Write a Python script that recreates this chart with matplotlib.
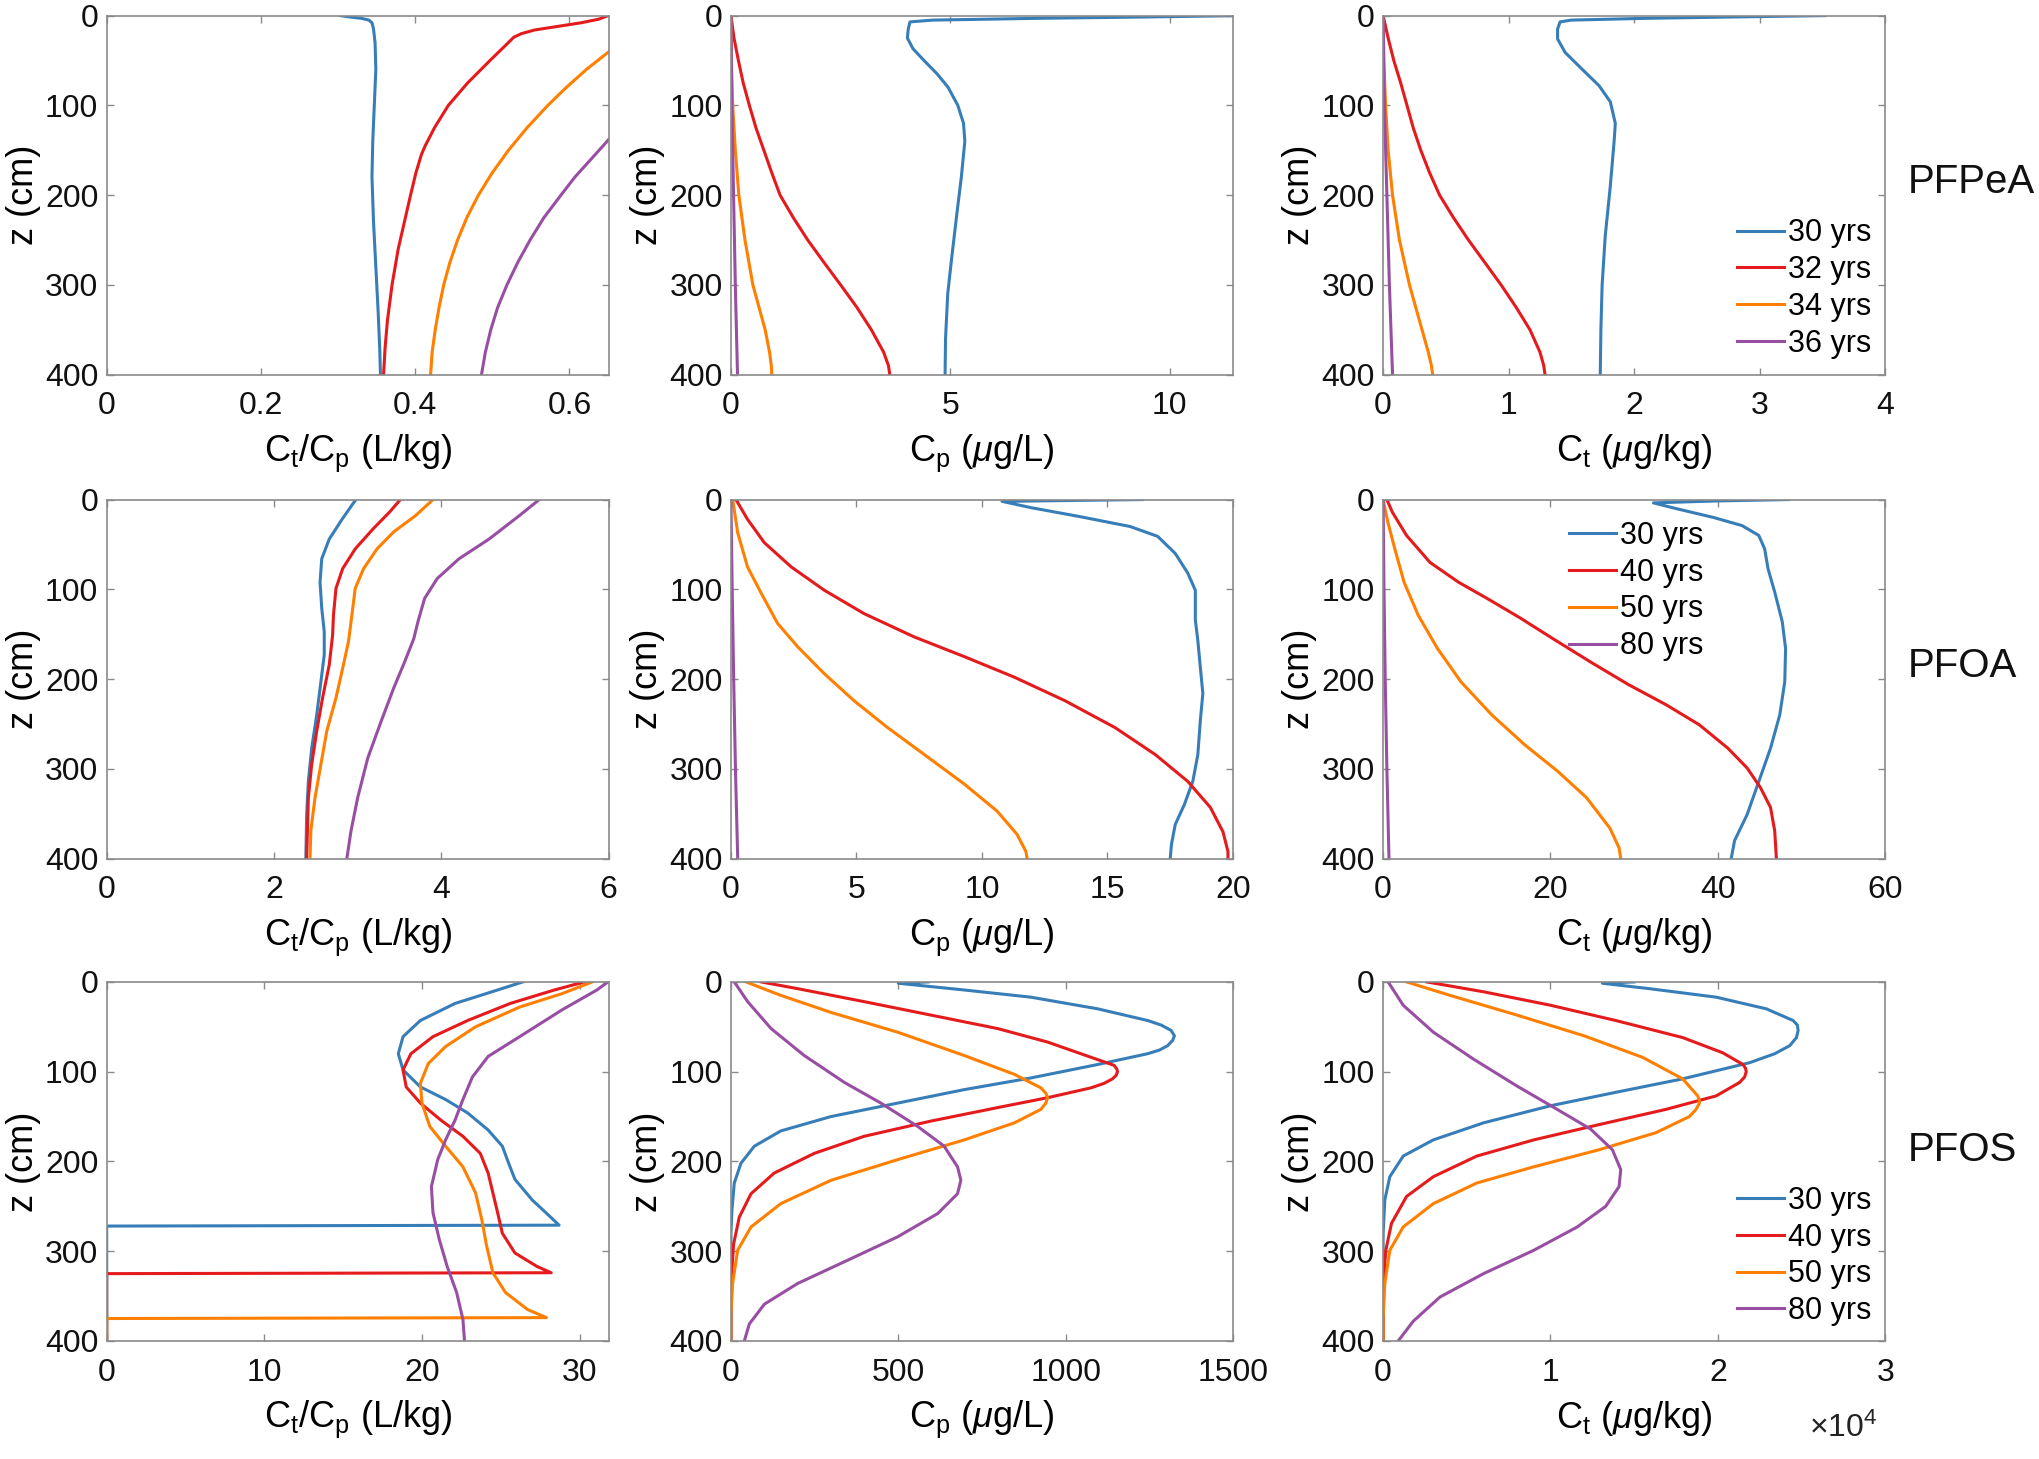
import matplotlib
matplotlib.use('Agg')
import matplotlib.pyplot as plt

plt.rcParams['font.family'] = ['Liberation Sans', 'DejaVu Sans']
plt.rcParams['mathtext.fontset'] = 'custom'
plt.rcParams['mathtext.rm'] = 'Liberation Sans'
plt.rcParams['mathtext.it'] = 'Liberation Sans:italic'
plt.rcParams['mathtext.bf'] = 'Liberation Sans:bold'

# ---- PFPeA ----
# Ct/Cp (L/kg)
z_pfpea_r30 = [0, 1.5, 3, 5, 8, 15, 30, 60, 100, 140, 180, 230, 280, 330, 370, 400]
x_pfpea_r30 = [0.303, 0.315, 0.33, 0.34, 0.344, 0.346, 0.348, 0.349, 0.347, 0.345, 0.344, 0.346, 0.349, 0.352, 0.354, 0.355]
z_pfpea_r32 = [0, 4, 8, 12, 16, 20, 24, 35, 50, 75, 100, 125, 145, 155, 175, 200, 230, 260, 300, 340, 370, 400]
x_pfpea_r32 = [0.65, 0.638, 0.615, 0.585, 0.555, 0.538, 0.528, 0.515, 0.497, 0.468, 0.443, 0.425, 0.413, 0.408, 0.401, 0.394, 0.386, 0.378, 0.37, 0.364, 0.361, 0.359]
z_pfpea_r34 = [30, 41, 60, 80, 100, 125, 150, 175, 200, 225, 250, 275, 300, 325, 350, 375, 400]
x_pfpea_r34 = [0.668, 0.65, 0.622, 0.596, 0.572, 0.545, 0.521, 0.5, 0.482, 0.467, 0.455, 0.445, 0.437, 0.431, 0.426, 0.422, 0.42]
z_pfpea_r36 = [128, 139, 160, 180, 200, 225, 250, 275, 300, 325, 350, 375, 400]
x_pfpea_r36 = [0.663, 0.65, 0.628, 0.607, 0.589, 0.567, 0.549, 0.533, 0.519, 0.507, 0.498, 0.491, 0.486]
# Cp (ug/L)
z_pfpea_c30 = [0, 1.5, 3, 5, 7, 15, 25, 37, 50, 65, 80, 100, 120, 140, 180, 220, 270, 310, 360, 400]
x_pfpea_c30 = [11.6, 9.5, 7.0, 4.6, 4.08, 4.04, 4.02, 4.15, 4.4, 4.7, 4.95, 5.17, 5.3, 5.33, 5.25, 5.15, 5.03, 4.94, 4.89, 4.88]
z_pfpea_c32 = [0, 25, 50, 75, 100, 125, 150, 175, 200, 225, 250, 275, 300, 325, 350, 375, 390, 400]
x_pfpea_c32 = [0, 0.07, 0.17, 0.28, 0.42, 0.57, 0.75, 0.93, 1.12, 1.42, 1.75, 2.12, 2.5, 2.87, 3.2, 3.48, 3.59, 3.62]
z_pfpea_c34 = [0, 50, 100, 150, 200, 250, 275, 300, 325, 350, 375, 390, 400]
x_pfpea_c34 = [0, 0.01, 0.04, 0.1, 0.18, 0.32, 0.41, 0.5, 0.64, 0.78, 0.88, 0.92, 0.93]
z_pfpea_c36 = [0, 100, 200, 300, 400]
x_pfpea_c36 = [0, 0.02, 0.06, 0.1, 0.15]
# Ct (ug/kg)
z_pfpea_t30 = [0, 1.5, 3, 5, 7, 15, 26, 41, 59, 78, 96, 120, 141, 190, 245, 300, 350, 400]
x_pfpea_t30 = [3.52, 2.8, 2.1, 1.5, 1.41, 1.39, 1.39, 1.45, 1.58, 1.72, 1.81, 1.85, 1.84, 1.81, 1.77, 1.745, 1.735, 1.73]
z_pfpea_t32 = [0, 25, 50, 75, 100, 125, 150, 175, 200, 225, 250, 275, 300, 325, 350, 375, 390, 400]
x_pfpea_t32 = [0, 0.04, 0.085, 0.14, 0.19, 0.24, 0.30, 0.37, 0.45, 0.56, 0.68, 0.81, 0.94, 1.06, 1.17, 1.25, 1.28, 1.29]
z_pfpea_t34 = [0, 50, 100, 150, 200, 250, 275, 300, 325, 350, 375, 390, 400]
x_pfpea_t34 = [0, 0.005, 0.02, 0.04, 0.075, 0.13, 0.17, 0.21, 0.26, 0.31, 0.36, 0.385, 0.395]
z_pfpea_t36 = [0, 100, 200, 300, 400]
x_pfpea_t36 = [0, 0.01, 0.03, 0.05, 0.075]

# ---- PFOA ----
z_pfoa_r30 = [0, 5, 21, 44, 66, 92, 121, 147, 173, 203, 240, 277, 314, 351, 400]
x_pfoa_r30 = [2.98, 2.94, 2.82, 2.66, 2.57, 2.55, 2.57, 2.6, 2.6, 2.56, 2.51, 2.45, 2.41, 2.39, 2.38]
z_pfoa_r40 = [0, 14, 33, 55, 77, 99, 129, 151, 184, 221, 258, 295, 332, 400]
x_pfoa_r40 = [3.51, 3.38, 3.18, 2.97, 2.82, 2.74, 2.71, 2.7, 2.66, 2.58, 2.51, 2.45, 2.41, 2.39]
z_pfoa_r50 = [0, 18, 36, 55, 77, 99, 129, 158, 188, 221, 258, 295, 332, 369, 400]
x_pfoa_r50 = [3.9, 3.69, 3.43, 3.23, 3.07, 2.97, 2.93, 2.89, 2.82, 2.74, 2.63, 2.56, 2.49, 2.44, 2.43]
z_pfoa_r80 = [0, 18, 44, 66, 88, 110, 136, 155, 181, 210, 247, 288, 332, 369, 400]
x_pfoa_r80 = [5.17, 4.93, 4.57, 4.21, 3.95, 3.8, 3.72, 3.67, 3.56, 3.43, 3.28, 3.12, 3.0, 2.92, 2.87]
z_pfoa_c30 = [0, 2, 9, 19, 30, 41, 60, 82, 101, 119, 134, 157, 187, 216, 246, 284, 314, 340, 362, 384, 400]
x_pfoa_c30 = [16.4, 10.8, 11.95, 13.9, 15.9, 17.0, 17.7, 18.2, 18.5, 18.5, 18.5, 18.6, 18.7, 18.8, 18.7, 18.6, 18.4, 18.06, 17.7, 17.55, 17.5]
z_pfoa_c40 = [0, 22, 48, 75, 101, 127, 153, 175, 198, 224, 254, 284, 314, 343, 370, 392, 400]
x_pfoa_c40 = [0.2, 0.66, 1.33, 2.4, 3.72, 5.3, 7.3, 9.3, 11.3, 13.3, 15.3, 16.9, 18.2, 19.1, 19.6, 19.8, 19.8]
z_pfoa_c50 = [0, 37, 75, 104, 138, 164, 194, 224, 254, 284, 317, 347, 373, 392, 400]
x_pfoa_c50 = [0.07, 0.27, 0.66, 1.2, 1.86, 2.66, 3.72, 4.9, 6.24, 7.7, 9.3, 10.6, 11.4, 11.75, 11.8]
z_pfoa_c80 = [0, 100, 200, 300, 400]
x_pfoa_c80 = [0, 0.05, 0.11, 0.18, 0.27]
z_pfoa_t30 = [0, 1.5, 3.7, 10, 20, 29, 40, 55, 77, 103, 136, 166, 203, 240, 277, 314, 351, 380, 400]
x_pfoa_t30 = [48.5, 40, 32.3, 35, 39.5, 42.9, 44.9, 45.6, 46.0, 46.8, 47.7, 48.1, 48.0, 47.4, 46.3, 44.9, 43.5, 42.0, 41.6]
z_pfoa_t40 = [0, 14, 40, 70, 92, 110, 132, 155, 181, 206, 229, 251, 277, 299, 321, 343, 369, 400]
x_pfoa_t40 = [0.45, 1.1, 2.8, 5.6, 9.0, 12.4, 16.4, 20.3, 24.8, 29.3, 33.9, 37.8, 41.2, 43.5, 45.1, 46.3, 46.8, 47.0]
z_pfoa_t50 = [0, 25, 55, 92, 129, 166, 203, 240, 273, 303, 332, 366, 388, 400]
x_pfoa_t50 = [0, 0.56, 1.4, 2.5, 4.2, 6.5, 9.3, 13.0, 16.9, 20.9, 24.3, 27.1, 28.2, 28.4]
z_pfoa_t80 = [0, 100, 200, 300, 400]
x_pfoa_t80 = [0, 0.1, 0.25, 0.45, 0.7]

# ---- PFOS ----
z_pfos_r30 = [0, 9, 24, 43, 61, 80, 98, 117, 131, 146, 165, 183, 202, 220, 243, 261, 271, 272, 400]
x_pfos_r30 = [26.4, 24.8, 22.1, 19.9, 18.8, 18.5, 18.8, 19.9, 21.5, 22.9, 24.2, 25.1, 25.5, 25.9, 27.0, 28.1, 28.7, 0, 0]
z_pfos_r40 = [0, 9, 24, 43, 61, 80, 98, 117, 135, 154, 172, 191, 213, 235, 257, 280, 302, 317, 324, 325, 400]
x_pfos_r40 = [30.3, 28.4, 25.6, 22.9, 20.7, 19.3, 18.8, 19.0, 19.9, 21.2, 22.6, 23.7, 24.2, 24.5, 24.8, 25.1, 25.9, 27.3, 28.2, 0, 0]
z_pfos_r50 = [0, 13, 28, 50, 72, 91, 113, 135, 161, 183, 206, 235, 265, 294, 324, 346, 365, 374, 375, 400]
x_pfos_r50 = [30.8, 28.9, 26.2, 23.4, 21.5, 20.4, 19.9, 20.0, 20.5, 21.5, 22.6, 23.4, 23.8, 24.1, 24.5, 25.3, 26.7, 27.9, 0, 0]
z_pfos_r80 = [0, 9, 31, 61, 83, 106, 131, 154, 176, 198, 228, 257, 287, 317, 346, 376, 400]
x_pfos_r80 = [31.8, 31.1, 28.9, 26.2, 24.2, 23.2, 22.6, 22.1, 21.5, 21.0, 20.6, 20.7, 21.1, 21.6, 22.2, 22.6, 22.7]
z_pfos_c30 = [0, 1.5, 9, 17, 30, 43, 48, 54, 60, 65, 71, 76, 80, 92, 107, 120, 135, 150, 166, 183, 202, 224, 254, 280, 400]
x_pfos_c30 = [590, 500, 697, 896, 1096, 1245, 1285, 1315, 1325, 1320, 1305, 1280, 1245, 1096, 896, 697, 498, 299, 149, 70, 30, 10, 3, 0, 0]
z_pfos_c40 = [0, 7.5, 22, 37, 52, 67, 84, 93, 97, 100, 104, 108, 113, 118, 129, 140, 155, 172, 191, 213, 236, 262, 292, 325, 360, 400]
x_pfos_c40 = [90, 199, 398, 598, 797, 946, 1076, 1145, 1153, 1155, 1151, 1140, 1115, 1076, 946, 797, 598, 398, 249, 129, 60, 25, 8, 2, 0, 0]
z_pfos_c50 = [0, 15, 34, 56, 82, 103, 118, 124, 129, 135, 142, 157, 176, 198, 221, 247, 273, 299, 336, 370, 400]
x_pfos_c50 = [45, 149, 299, 498, 697, 847, 926, 941, 946, 941, 926, 847, 697, 498, 299, 149, 60, 20, 5, 0, 0]
z_pfos_c80 = [0, 22, 52, 82, 112, 135, 161, 183, 206, 221, 236, 258, 284, 310, 336, 359, 381, 400]
x_pfos_c80 = [10, 50, 120, 219, 339, 448, 558, 637, 677, 687, 677, 618, 498, 349, 199, 100, 55, 40]
# Ct in units of 1e4 ug/kg
z_pfos_t30 = [0, 1.5, 7.5, 17, 30, 43, 48, 54, 62, 71, 80, 90, 108, 123, 138, 157, 176, 194, 217, 243, 280, 400]
x_pfos_t30 = [1.5, 1.31, 1.59, 1.99, 2.29, 2.45, 2.475, 2.48, 2.47, 2.43, 2.34, 2.19, 1.79, 1.39, 1.0, 0.6, 0.3, 0.12, 0.04, 0.01, 0, 0]
z_pfos_t40 = [0, 11, 26, 43, 62, 79, 92, 96, 100, 106, 112, 127, 142, 159, 176, 194, 217, 239, 269, 299, 340, 400]
x_pfos_t40 = [0.26, 0.6, 1.0, 1.39, 1.79, 2.03, 2.15, 2.165, 2.17, 2.16, 2.13, 1.99, 1.69, 1.29, 0.9, 0.56, 0.3, 0.14, 0.05, 0.016, 0, 0]
z_pfos_t50 = [0, 15, 37, 60, 84, 108, 127, 131, 135, 142, 150, 168, 187, 206, 224, 247, 273, 299, 336, 375, 400]
x_pfos_t50 = [0.14, 0.4, 0.8, 1.2, 1.55, 1.79, 1.88, 1.888, 1.89, 1.87, 1.83, 1.63, 1.29, 0.9, 0.56, 0.3, 0.12, 0.04, 0.01, 0, 0]
z_pfos_t80 = [0, 26, 56, 86, 116, 142, 164, 187, 209, 228, 250, 273, 299, 325, 351, 378, 400]
x_pfos_t80 = [0.03, 0.12, 0.3, 0.54, 0.8, 1.04, 1.24, 1.37, 1.42, 1.41, 1.33, 1.16, 0.9, 0.6, 0.34, 0.18, 0.09]

labels_pfpea = ['30 yrs', '32 yrs', '34 yrs', '36 yrs']
labels_other = ['30 yrs', '40 yrs', '50 yrs', '80 yrs']
colors = ['#377eb8', '#e41a1c', '#ff7f00', '#984ea3']
chem_names = ['PFPeA', 'PFOA', 'PFOS']

xlab_ratio = r'C$_\mathregular{t}$/C$_\mathregular{p}$ (L/kg)'
xlab_cp = r'C$_\mathregular{p}$ ($\mu$g/L)'
xlab_ct = r'C$_\mathregular{t}$ ($\mu$g/kg)'

# rows: chemical; cols: ratio, Cp, Ct
panels = [
    [([z_pfpea_r30, z_pfpea_r32, z_pfpea_r34, z_pfpea_r36], [x_pfpea_r30, x_pfpea_r32, x_pfpea_r34, x_pfpea_r36], 0.651, [0, 0.2, 0.4, 0.6], ['0', '0.2', '0.4', '0.6'], xlab_ratio),
     ([z_pfpea_c30, z_pfpea_c32, z_pfpea_c34, z_pfpea_c36], [x_pfpea_c30, x_pfpea_c32, x_pfpea_c34, x_pfpea_c36], 11.44, [0, 5, 10], ['0', '5', '10'], xlab_cp),
     ([z_pfpea_t30, z_pfpea_t32, z_pfpea_t34, z_pfpea_t36], [x_pfpea_t30, x_pfpea_t32, x_pfpea_t34, x_pfpea_t36], 4, [0, 1, 2, 3, 4], ['0', '1', '2', '3', '4'], xlab_ct)],
    [([z_pfoa_r30, z_pfoa_r40, z_pfoa_r50, z_pfoa_r80], [x_pfoa_r30, x_pfoa_r40, x_pfoa_r50, x_pfoa_r80], 6, [0, 2, 4, 6], ['0', '2', '4', '6'], xlab_ratio),
     ([z_pfoa_c30, z_pfoa_c40, z_pfoa_c50, z_pfoa_c80], [x_pfoa_c30, x_pfoa_c40, x_pfoa_c50, x_pfoa_c80], 20, [0, 5, 10, 15, 20], ['0', '5', '10', '15', '20'], xlab_cp),
     ([z_pfoa_t30, z_pfoa_t40, z_pfoa_t50, z_pfoa_t80], [x_pfoa_t30, x_pfoa_t40, x_pfoa_t50, x_pfoa_t80], 60, [0, 20, 40, 60], ['0', '20', '40', '60'], xlab_ct)],
    [([z_pfos_r30, z_pfos_r40, z_pfos_r50, z_pfos_r80], [x_pfos_r30, x_pfos_r40, x_pfos_r50, x_pfos_r80], 31.85, [0, 10, 20, 30], ['0', '10', '20', '30'], xlab_ratio),
     ([z_pfos_c30, z_pfos_c40, z_pfos_c50, z_pfos_c80], [x_pfos_c30, x_pfos_c40, x_pfos_c50, x_pfos_c80], 1500, [0, 500, 1000, 1500], ['0', '500', '1000', '1500'], xlab_cp),
     ([z_pfos_t30, z_pfos_t40, z_pfos_t50, z_pfos_t80], [x_pfos_t30, x_pfos_t40, x_pfos_t50, x_pfos_t80], 3, [0, 1, 2, 3], ['0', '1', '2', '3'], xlab_ct)],
]

fig = plt.figure(figsize=(20.4, 14.59), dpi=100)

col_left = [0.0523, 0.3583, 0.678]
row_bottom = [0.7432, 0.4115, 0.0809]
w, h = 0.2461, 0.2461
spine_col = '#8a8a8a'
fs = 23

for r in range(3):
    for c in range(3):
        zs, xs, xmax, xt, xtl, xlab = panels[r][c]
        ax = fig.add_axes([col_left[c], row_bottom[r], w, h])
        labels = labels_pfpea if r == 0 else labels_other
        for i in range(4):
            ax.plot(xs[i], zs[i], color=colors[i], lw=2.2, label=labels[i])
        ax.set_xlim(0, xmax)
        ax.set_ylim(400, 0)
        ax.set_yticks([0, 100, 200, 300, 400])
        ax.set_xticks(xt, labels=xtl)
        for s in ax.spines.values():
            s.set_color(spine_col)
            s.set_linewidth(1.2)
        ax.tick_params(direction='in', length=5, width=1, color=spine_col,
                       top=True, right=True, labelsize=fs, labelcolor='#111111')
        ax.tick_params(axis='x', pad=12)
        ax.tick_params(axis='y', pad=6)
        ax.set_xlabel(xlab, fontsize=26, labelpad=8)
        ax.set_ylabel('z (cm)', fontsize=26, labelpad=3)
        if c == 2:
            if r == 1:
                anchor = (0.37, 0.745)
            elif r == 0:
                anchor = (0.705, 0.24)
            else:
                anchor = (0.705, 0.237)
            ax.legend(loc='center left', bbox_to_anchor=anchor, frameon=False,
                      fontsize=22, handlelength=1.55, handletextpad=0.12,
                      labelspacing=0.22, borderpad=0, borderaxespad=0)

for r in range(3):
    fig.text(0.935, [0.875, 0.5435, 0.2118][r], chem_names[r], fontsize=29,
             ha='left', va='center', color='#111111')

fig.text(0.887, 0.021, r'$\times$10$^\mathregular{4}$', fontsize=23, ha='left', va='center', color='#222222')

fig.savefig('out.png', dpi=100)
